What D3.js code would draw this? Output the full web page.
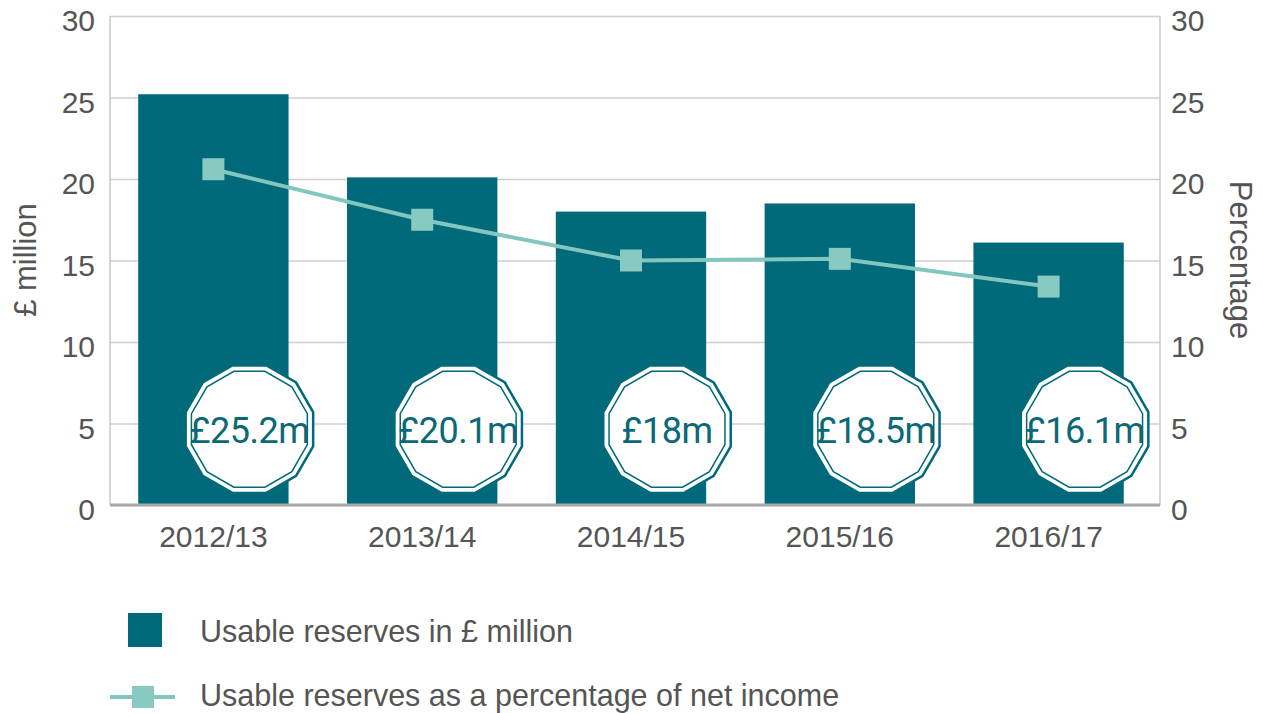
<!DOCTYPE html>
<html>
  <head>
    <meta charset="utf-8">
    <script src="https://d3js.org/d3.v7.min.js"></script>
    <title>Usable reserves</title>
    <style>
      body { margin: 0; background: #fff; }
      text { font-family: "Liberation Sans", Roboto, sans-serif; }
    </style>
  </head>
  <body>
    <div id="plot"></div>
    <script>

    // data
    const years = ["2012/13", "2013/14", "2014/15", "2015/16", "2016/17"];
    const reserves = [25.2, 20.1, 18, 18.5, 16.1];
    const percents = [20.6, 17.5, 15.0, 15.1, 13.4];
    const coinLabels = ["£25.2m", "£20.1m", "£18m", "£18.5m", "£16.1m"];
    const ticks = [0, 5, 10, 15, 20, 25, 30];

    const W = 1263, H = 713;
    const pLeft = 110, pRight = 1160, pTop = 16, pBottom = 505;

    const barCol = "#006a7a", lineCol = "#82c6bf", textCol = "#555";

    let svg = d3.select("#plot")
      .append("svg")
        .attr("width", W)
        .attr("height", H);

    const x = d3.scaleBand()
      .domain(years)
      .range([109, 1153])
      .paddingInner(0.28)
      .paddingOuter(0.14);

    const y = d3.scaleLinear().domain([0, 30]).range([pBottom, pTop]);
    const y2 = d3.scaleLinear().domain([0, 30]).range([pBottom, pTop]);

    // grid
    svg.append("g")
      .attr("transform", "translate(" + pLeft + ",0)")
      .call(d3.axisLeft(y).tickValues(ticks).tickSize(-(pRight - pLeft)).tickFormat(""))
      .call(g => g.select(".domain").remove())
      .selectAll("line").attr("stroke", "#cfcfcf").attr("stroke-width", 1.5);

    // side axis lines
    svg.append("line").attr("x1", pLeft).attr("x2", pLeft).attr("y1", pTop).attr("y2", pBottom)
      .attr("stroke", "#c8c8c8").attr("stroke-width", 1.5);
    svg.append("line").attr("x1", pRight).attr("x2", pRight).attr("y1", pTop).attr("y2", pBottom)
      .attr("stroke", "#c8c8c8").attr("stroke-width", 1.5);

    // left ticks
    const ax = svg.append("g")
      .attr("transform", "translate(" + pLeft + ",5)")
      .call(d3.axisLeft(y).tickValues(ticks).tickSize(0).tickPadding(15));
    ax.select(".domain").remove();
    ax.selectAll("text").attr("font-size", 30).attr("fill", textCol)
      .style("font-family", "Liberation Sans, sans-serif");

    const ax2 = svg.append("g")
      .attr("transform", "translate(" + pRight + ",5)")
      .call(d3.axisRight(y2).tickValues(ticks).tickSize(0).tickPadding(11));
    ax2.select(".domain").remove();
    ax2.selectAll("text").attr("font-size", 30).attr("fill", textCol)
      .style("font-family", "Liberation Sans, sans-serif");

    // bars
    svg.selectAll("rect.bar")
      .data(reserves)
      .enter()
      .append("rect")
        .attr("class", "bar")
        .attr("x", (d, i) => x(years[i]))
        .attr("y", d => y(d))
        .attr("width", x.bandwidth())
        .attr("height", d => pBottom - y(d))
        .attr("fill", barCol);

    // bottom axis
    const bx = svg.append("g")
      .attr("transform", "translate(0," + pBottom + ")")
      .call(d3.axisBottom(x).tickSize(0).tickPadding(21));
    bx.select(".domain").remove();
    bx.selectAll("text").attr("font-size", 30).attr("fill", textCol)
      .style("font-family", "Liberation Sans, sans-serif");
    svg.append("line").attr("x1", pLeft).attr("x2", pRight).attr("y1", pBottom).attr("y2", pBottom)
      .attr("stroke", "#a8a8a8").attr("stroke-width", 3);

    // percentage line
    const cx = i => x(years[i]) + x.bandwidth() / 2;
    svg.append("path")
      .datum(percents)
      .attr("fill", "none")
      .attr("stroke", lineCol)
      .attr("stroke-width", 4)
      .attr("d", d3.line().x((d, i) => cx(i)).y(d => y2(d)));

    svg.selectAll("rect.mark")
      .data(percents)
      .enter()
      .append("rect")
        .attr("class", "mark")
        .attr("x", (d, i) => cx(i) - 11)
        .attr("y", d => y2(d) - 11)
        .attr("width", 22)
        .attr("height", 22)
        .attr("fill", "#88c9c1");

    // coins (12 sided, flat top)
    const poly = r => d3.range(12).map(k => {
      const a = (15 + 30 * k) * Math.PI / 180;
      return [r * Math.cos(a), r * Math.sin(a)];
    });
    const coins = svg.selectAll("g.coin")
      .data(coinLabels)
      .enter()
      .append("g")
        .attr("class", "coin")
        .attr("transform", (d, i) => "translate(" + (cx(i) + 36) + "," + y(4.65) + ")");
    coins.append("polygon")
      .attr("points", poly(66).join(" "))
      .attr("fill", "#fff")
      .attr("stroke", barCol)
      .attr("stroke-width", 2.5);
    coins.append("polygon")
      .attr("points", poly(60).join(" "))
      .attr("fill", "none")
      .attr("stroke", barCol)
      .attr("stroke-width", 1.5);
    coins.append("text")
      .text(d => d)
      .attr("text-anchor", "middle")
      .attr("dy", "0.38em")
      .attr("font-size", 36)
      .attr("fill", "#0b6877")
      .style("font-family", "Roboto, sans-serif")
      .style("letter-spacing", "-0.5px");

    // axis titles
    svg.append("text")
      .text("£ million")
      .attr("transform", "translate(36,260) rotate(-90)")
      .attr("text-anchor", "middle")
      .attr("font-size", 31)
      .attr("fill", textCol);
    svg.append("text")
      .text("Percentage")
      .attr("transform", "translate(1230,260) rotate(90)")
      .attr("text-anchor", "middle")
      .attr("font-size", 31)
      .attr("fill", textCol);

    // legend
    svg.append("rect").attr("x", 128).attr("y", 613).attr("width", 34).attr("height", 34)
      .attr("fill", barCol);
    svg.append("text").text("Usable reserves in £ million")
      .attr("x", 200).attr("y", 642).attr("font-size", 30.5).attr("fill", textCol);
    svg.append("line").attr("x1", 110).attr("x2", 175).attr("y1", 697).attr("y2", 697)
      .attr("stroke", lineCol).attr("stroke-width", 4);
    svg.append("rect").attr("x", 132).attr("y", 686).attr("width", 22).attr("height", 22)
      .attr("fill", "#88c9c1");
    svg.append("text").text("Usable reserves as a percentage of net income")
      .attr("x", 200).attr("y", 706).attr("font-size", 30.5).attr("fill", textCol);

    </script>
  </body>
</html>
